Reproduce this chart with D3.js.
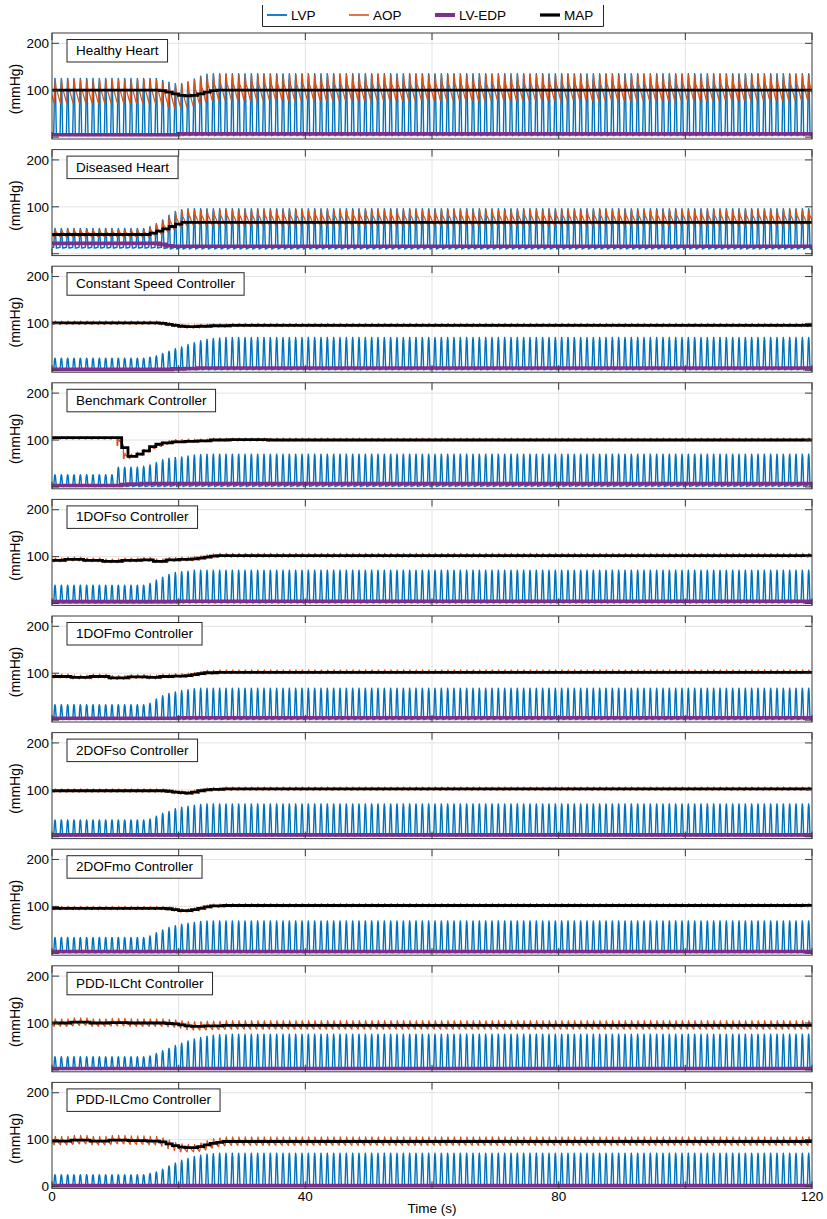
<!DOCTYPE html>
<html>
<head>
<meta charset="utf-8">
<script src="https://cdn.jsdelivr.net/npm/d3@7"></script>
<style>
  body { margin: 0; background: #fff; }
  text { font-family: "Liberation Sans", Arial, Helvetica, sans-serif; fill: #000; }
</style>
</head>
<body>
<svg id="chart" width="827" height="1219"></svg>
<script>
// ---------------- data ----------------
const panelTitles = [
  "Healthy Heart", "Diseased Heart", "Constant Speed Controller", "Benchmark Controller",
  "1DOFso Controller", "1DOFmo Controller", "2DOFso Controller", "2DOFmo Controller",
  "PDD-ILCht Controller", "PDD-ILCmo Controller"
];

const seriesNames = ["LVP", "AOP", "LV-EDP", "MAP"];
const xTicks = [0, 20, 40, 60, 80, 100, 120];
const xTickLabels = [0, 40, 80, 120];
const yTicks = [0, 100, 200];
const timeEnd = 120;        // s
const beatPeriod = 1.0;     // s
const beatOnset = 0.27;     // s, start of first systole

// one cardiac cycle, phase (0..1) -> normalised pressure (0 = low, 1 = high)
const lvpShape = [[0, 0.04], [0.06, 0.35], [0.13, 0.85], [0.2, 1], [0.27, 0.9], [0.35, 0.4], [0.42, 0], [0.7, 0.02], [1, 0.04]];
const aopShape = [[0, 0.05], [0.08, 0], [0.17, 0.6], [0.25, 1], [0.33, 0.75], [0.42, 0.55], [0.47, 0.58], [0.7, 0.35], [1, 0.05]];

// mean arterial pressure, [time s, mmHg], held until the next entry
const mapSteps = [
  [[0,100],[17,99],[18,96],[19,92],[20,89],[21,88],[22,89],[23,92],[24,96],[25,99],[26,100]],
  [[0,41],[15.5,44],[16.5,48],[17.5,53],[18.5,58],[19.5,63],[20.5,67]],
  [[0,101],[17,100],[18,98],[19,96],[20,94],[21,93],[23,94],[25,95],[28,96]],
  [[0,105],[11,84],[12,65],[13.4,70],[14.4,77],[15.4,86],[16.4,91],[17.4,94],[19,96],[21,97],[23,98],[25,100],[28,101],[34,100]],
  [[0,92],[2,94],[5,92],[8,90],[11,92],[14,93],[16,90],[18,93],[20,94],[22,95],[23,97],[24,99],[25,101],[26,102]],
  [[0,93],[3,91],[6,93],[9,90],[12,92],[15,91],[17,93],[19,94],[21,95],[22,97],[23,99],[24,101],[26,102]],
  [[0,98],[18,97],[19,95],[20,94],[21,93],[22,95],[23,98],[24,100],[25,101],[27,102]],
  [[0,96],[18,95],[19,93],[20,91],[22,93],[23,96],[24,99],[25,101],[27,102]],
  [[0,100],[3,102],[6,100],[9,101],[12,100],[18,99],[19,98],[20,96],[21,94],[22,93],[24,94],[27,95]],
  [[0,97],[3,99],[6,97],[9,99],[12,98],[15,97],[17,95],[18,91],[19,87],[20,84],[21,83],[23,85],[24,89],[25,92],[26,94],[27,96]]
];

// aortic pressure per beat, [time s, systolic, diastolic]
const aopBeats = [
  [[0,123,72],[16,122,71],[17,119,68],[18,115,64],[19,112,62],[20,112,62],[21,116,64],[22,122,68],[23,128,72],[24,132,76],[25,133,78]],
  [[0,52,35],[15,56,37],[16,62,40],[17,70,45],[18,80,50],[19,88,55],[20,92,58],[21,94,60]],
  [[0,105,98],[17,104,97],[18,102,95],[19,100,93],[20,98,91],[21,97,90],[23,98,91],[25,99,92],[28,100,93]],
  [[0,107,102],[10,105,88],[11,72,60],[12,70,63],[13,74,67],[14,80,74],[15,87,81],[16,92,86],[17,96,90],[18,99,93],[19,101,95],[21,102,96],[25,104,98]],
  [[0,97,89],[2,99,91],[5,97,89],[8,95,87],[11,97,89],[14,98,90],[16,95,87],[18,98,90],[20,99,91],[22,100,92],[23,102,94],[24,104,96],[25,106,98],[26,107,99]],
  [[0,98,90],[3,96,88],[6,98,90],[9,95,87],[12,97,89],[15,96,88],[17,98,90],[19,99,91],[21,100,92],[22,102,94],[23,104,96],[24,106,98],[26,107,99]],
  [[0,102,95],[18,101,94],[19,99,92],[20,98,91],[21,97,90],[22,99,92],[23,102,95],[24,104,97],[25,105,98],[27,106,99]],
  [[0,100,93],[18,99,92],[19,97,90],[20,95,88],[22,97,90],[23,100,93],[24,103,96],[25,105,98],[27,106,99]],
  [[0,109,93],[3,111,95],[6,109,93],[9,110,94],[12,109,93],[18,108,92],[19,107,91],[20,105,89],[21,103,86],[22,103,85],[24,104,86],[27,105,87]],
  [[0,107,89],[3,109,91],[6,107,89],[9,109,91],[12,108,90],[15,107,89],[17,104,86],[18,99,81],[19,94,77],[20,91,74],[21,90,74],[23,93,77],[24,98,81],[25,102,84],[26,104,86],[27,106,88]]
];

// left ventricular pressure per beat, [time s, peak, minimum]
const lvpBeats = [
  [[0,125,3],[17,121,3],[18,117,3],[19,114,3],[20,114,3],[21,118,3],[22,124,3],[23,130,3],[24,134,3],[25,135,3]],
  [[0,54,12],[15,58,12],[16,64,12],[17,72,11],[18,82,10],[19,90,10],[20,94,10],[21,96,10]],
  [[0,26,1],[15,28,1],[16,31,1],[17,36,1],[18,41,1],[19,46,1],[20,50,1],[21,55,1],[22,59,1],[23,63,1],[24,66,1],[25,68,1],[26,69,1],[27,70,1]],
  [[0,26,1],[10,42,1],[14,44,1],[15,47,1],[16,52,1],[17,58,1],[18,61,1],[19,63,1],[20,64,1],[21,66,1],[22,68,1],[23,69,1],[24,70,1]],
  [[0,39,1],[15,43,1],[16,50,1],[17,56,1],[18,62,1],[19,66,1],[20,68,1],[21,69,1],[22,71,1]],
  [[0,33,1],[15,36,1],[16,45,1],[17,52,1],[18,57,1],[19,60,1],[20,63,1],[21,65,1],[22,67,1],[23,68,1]],
  [[0,36,1],[15,38,1],[16,44,1],[17,50,1],[18,54,1],[19,60,1],[20,63,1],[21,65,1],[22,67,1],[23,69,1],[24,70,1]],
  [[0,34,1],[15,37,1],[16,44,1],[17,50,1],[18,55,1],[19,59,1],[20,62,1],[21,64,1],[22,66,1],[23,68,1],[24,69,1]],
  [[0,28,1],[15,30,1],[16,35,1],[17,41,1],[18,46,1],[19,52,1],[20,57,1],[21,62,1],[22,66,1],[23,69,1],[24,72,1],[25,74,1],[26,75,1],[28,76,1]],
  [[0,25,1],[15,28,1],[16,31,1],[17,37,1],[18,44,1],[19,50,1],[20,56,1],[21,60,1],[22,64,1],[23,67,1],[24,69,1],[25,70,1],[26,71,1]]
];

// left ventricular end-diastolic pressure, [time s, mmHg]
const edpSteps = [
  [[0,5],[20,7]],
  [[0,22],[17,20],[18,17],[19,16]],
  [[0,2],[19,3],[21,4],[23,5]],
  [[0,3],[11,5],[12,6],[14,7]],
  [[0,4],[20,5]],
  [[0,4],[20,5]],
  [[0,4]],
  [[0,4]],
  [[0,3]],
  [[0,2]]
];

// ---------------- layout ----------------
const colors = { LVP: "#0072BD", AOP: "#D95319", "LV-EDP": "#7E2F8E", MAP: "#000000" };
const widths = { LVP: 1.4, AOP: 1.2, "LV-EDP": 3.6, MAP: 2.8 };
const plotLeft = 52, plotRight = 812;
const firstTop = 33, panelPitch = 116.6, panelHeight = 106;
const axisColor = "#3a3a3a", gridColor = "#e3e3e3";

const svg = d3.select("#chart");
const x = d3.scaleLinear().domain([0, timeEnd]).range([plotLeft, plotRight]);

// value of a held list at time t
function heldAt(list, t) {
  let row = list[0];
  for (const r of list) { if (r[0] <= t + 1e-9) row = r; else break; }
  return row;
}

// sample points of a beat-by-beat waveform
function beatWave(beats, shape) {
  const pts = [];
  for (let k = -1; k * beatPeriod + beatOnset < timeEnd; k++) {
    const t0 = k * beatPeriod + beatOnset;
    const row = heldAt(beats, Math.max(t0, 0));
    const hi = row[1], lo = row[2];
    shape.forEach(([ph, s]) => pts.push([t0 + ph * beatPeriod, lo + (hi - lo) * s]));
  }
  return pts;
}

function heldLine(list) {
  const pts = list.map(d => [d[0], d[1]]);
  pts.push([timeEnd, list[list.length - 1][1]]);
  return pts;
}

panelTitles.forEach((title, i) => {
  const top = firstTop + i * panelPitch;
  const bottom = top + panelHeight;
  const y = d3.scaleLinear().domain([-4, 222]).range([bottom, top]);
  const g = svg.append("g");
  const clipId = "clip" + i;
  g.append("clipPath").attr("id", clipId)
    .append("rect").attr("x", plotLeft).attr("y", top).attr("width", plotRight - plotLeft).attr("height", panelHeight);

  // grid
  g.append("g").selectAll("line").data(xTicks.slice(1, -1)).join("line")
    .attr("x1", d => x(d)).attr("x2", d => x(d)).attr("y1", top).attr("y2", bottom)
    .attr("stroke", gridColor).attr("stroke-width", 1);
  g.append("g").selectAll("line").data(yTicks).join("line")
    .attr("x1", plotLeft).attr("x2", plotRight).attr("y1", d => y(d)).attr("y2", d => y(d))
    .attr("stroke", gridColor).attr("stroke-width", 1);

  const line = d3.line().x(d => x(d[0])).y(d => y(d[1]));
  const stepLine = d3.line().x(d => x(d[0])).y(d => y(d[1])).curve(d3.curveStepAfter);
  const data = g.append("g").attr("clip-path", `url(#${clipId})`);

  data.append("path").attr("d", line(beatWave(lvpBeats[i], lvpShape)))
    .attr("fill", "none").attr("stroke", colors.LVP).attr("stroke-width", widths.LVP).attr("stroke-linejoin", "round");
  data.append("path").attr("d", line(beatWave(aopBeats[i], aopShape)))
    .attr("fill", "none").attr("stroke", colors.AOP).attr("stroke-width", widths.AOP).attr("stroke-linejoin", "round");
  data.append("path").attr("d", stepLine(heldLine(edpSteps[i])))
    .attr("fill", "none").attr("stroke", colors["LV-EDP"]).attr("stroke-width", widths["LV-EDP"]);
  data.append("path").attr("d", stepLine(heldLine(mapSteps[i])))
    .attr("fill", "none").attr("stroke", colors.MAP).attr("stroke-width", widths.MAP);

  // axes: inward ticks on all four sides
  const isLast = i === panelTitles.length - 1;
  const tickLen = 7;
  const ticks = g.append("g").attr("stroke", axisColor).attr("stroke-width", 1);
  xTicks.forEach(v => {
    ticks.append("line").attr("x1", x(v)).attr("x2", x(v)).attr("y1", bottom).attr("y2", bottom - tickLen);
    ticks.append("line").attr("x1", x(v)).attr("x2", x(v)).attr("y1", top).attr("y2", top + tickLen);
  });
  yTicks.forEach(v => {
    ticks.append("line").attr("x1", plotLeft).attr("x2", plotLeft + tickLen).attr("y1", y(v)).attr("y2", y(v));
    ticks.append("line").attr("x1", plotRight).attr("x2", plotRight - tickLen).attr("y1", y(v)).attr("y2", y(v));
  });
  g.append("rect").attr("x", plotLeft).attr("y", top).attr("width", plotRight - plotLeft).attr("height", panelHeight)
    .attr("fill", "none").attr("stroke", axisColor).attr("stroke-width", 1);

  // y tick labels
  g.append("g").selectAll("text").data(yTicks.filter(v => v > 0 || isLast)).join("text")
    .attr("x", plotLeft - 3).attr("y", d => y(d)).attr("dy", "0.35em")
    .attr("text-anchor", "end").attr("font-size", 13.5).text(d => d);

  // y axis title
  g.append("text")
    .attr("transform", `translate(20,${(top + bottom) / 2 + 3}) rotate(-90)`)
    .attr("text-anchor", "middle").attr("font-size", 14).text("(mmHg)");

  // panel caption box
  const cap = g.append("g");
  const capText = cap.append("text").attr("x", 76).attr("y", top + 22).attr("font-size", 13.5).text(title);
  const w = capText.node().getComputedTextLength();
  cap.insert("rect", "text").attr("x", 67).attr("y", top + 6.5).attr("width", w + 18).attr("height", 22.5)
    .attr("fill", "#fff").attr("stroke", "#262626").attr("stroke-width", 1);

  if (isLast) {
    g.append("g").selectAll("text").data(xTickLabels).join("text")
      .attr("x", d => x(d)).attr("y", bottom + 13).attr("text-anchor", "middle")
      .attr("font-size", 13.5).text(d => d);
    g.append("text").attr("x", (plotLeft + plotRight) / 2).attr("y", 1213)
      .attr("text-anchor", "middle").attr("font-size", 13.5).text("Time (s)");
  }
});

// legend (open at the top edge of the figure)
const legend = svg.append("g");
legend.append("rect").attr("x", 262.5).attr("y", 5).attr("width", 341).attr("height", 21)
  .attr("fill", "#fff");
legend.append("path").attr("d", "M262.5,5V26.5H603.5V5")
  .attr("fill", "none").attr("stroke", "#262626").attr("stroke-width", 1);
const legendX = [267, 349, 435, 540];
seriesNames.forEach((name, j) => {
  legend.append("line").attr("x1", legendX[j]).attr("x2", legendX[j] + 20).attr("y1", 15).attr("y2", 15)
    .attr("stroke", colors[name]).attr("stroke-width", widths[name] + 0.4);
  legend.append("text").attr("x", legendX[j] + 24).attr("y", 15).attr("dy", "0.35em")
    .attr("font-size", 13.5).text(name);
});
</script>
</body>
</html>
